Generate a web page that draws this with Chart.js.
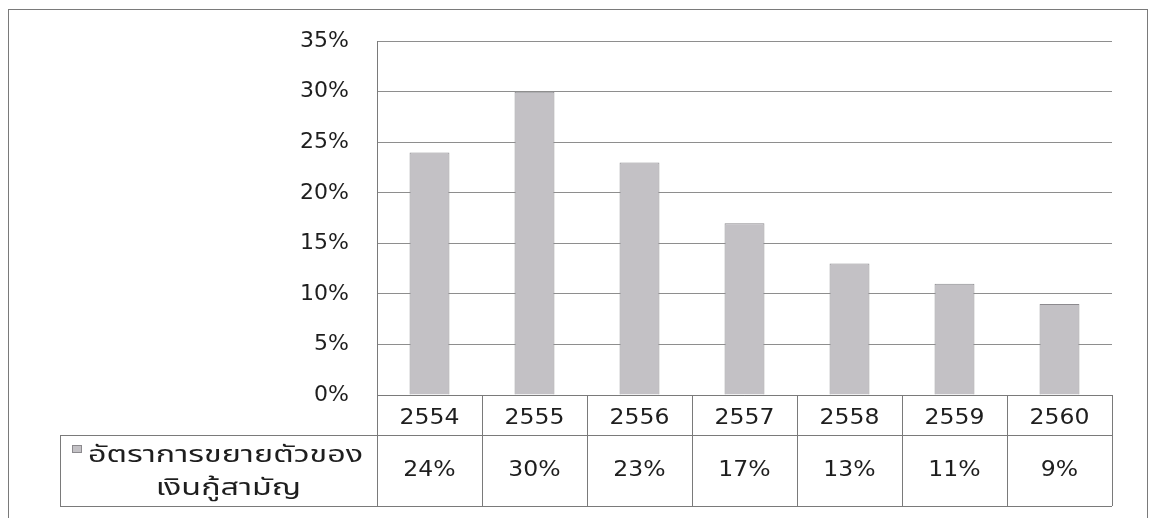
<!DOCTYPE html>
<html>
<head>
<meta charset="utf-8">
<script src="https://cdn.jsdelivr.net/npm/chart.js@4/dist/chart.umd.min.js"></script>
<style>
  html, body { margin: 0; padding: 0; background: #ffffff; }
  canvas { display: block; }
</style>
</head>
<body>
<canvas id="c" width="1149" height="518"></canvas>
<script>
// Loan growth rate by year (Buddhist Era), percent
const years = ['2554', '2555', '2556', '2557', '2558', '2559', '2560'];
const growthRate = [24, 30, 23, 17, 13, 11, 9];
const seriesLine1 = 'อัตราการขยายตัวของ';
const seriesLine2 = 'เงินกู้สามัญ';
const yTicks = [0, 5, 10, 15, 20, 25, 30, 35];

const FONT = "'DejaVu Sans', Verdana, sans-serif";
const THAI_FONT = "'Noto Sans Thai', 'Noto Sans Thai UI', 'Noto Sans', 'DejaVu Sans', sans-serif";
const BAR_FILL = '#c3c1c5';
const BAR_EDGE = '#8c8a8e';
const LINE = '#7a7a7a';
const TEXT = '#1e1e1e';

// text stretched horizontally by sx around its anchor
function wideText(ctx, text, x, y, sx, align) {
  ctx.save();
  ctx.translate(x, y);
  ctx.scale(sx, 1);
  ctx.textAlign = align;
  ctx.fillText(text, 0, 0);
  ctx.restore();
}

// Draws the outer frame and the data table under the plot
const dataTable = {
  id: 'dataTable',
  afterDraw(chart) {
    const ctx = chart.ctx;
    const x = chart.scales.x;
    const area = chart.chartArea;
    const n = years.length;
    const step = (area.right - area.left) / n;
    const rowTop = area.bottom;
    const rowMid = rowTop + 40;
    const rowBot = rowTop + 111;
    const legendLeft = 60;

    ctx.save();
    ctx.strokeStyle = LINE;
    ctx.lineWidth = 1;

    // outer frame
    ctx.strokeRect(8.5, 9.5, 1139, 600);

    ctx.beginPath();
    ctx.moveTo(area.left, rowTop + 0.5); ctx.lineTo(area.right, rowTop + 0.5);
    ctx.moveTo(legendLeft, rowMid + 0.5); ctx.lineTo(area.right, rowMid + 0.5);
    ctx.moveTo(legendLeft, rowBot + 0.5); ctx.lineTo(area.right, rowBot + 0.5);
    ctx.moveTo(legendLeft + 0.5, rowMid); ctx.lineTo(legendLeft + 0.5, rowBot);
    for (let i = 0; i <= n; i++) {
      const px = Math.round(area.left + i * step) + 0.5;
      ctx.moveTo(px, rowTop); ctx.lineTo(px, rowBot);
    }
    ctx.stroke();

    ctx.fillStyle = TEXT;
    ctx.textBaseline = 'middle';
    ctx.font = '21px ' + FONT;
    years.forEach((y, i) => {
      const cx = x.getPixelForValue(i);
      wideText(ctx, y, cx, rowTop + 24, 1.12, 'center');
      wideText(ctx, Math.round(growthRate[i]) + '%', cx, rowMid + 36, 1.12, 'center');
    });

    // series key inside the table
    ctx.font = '23px ' + THAI_FONT;
    const t1x = 88;
    const w1 = ctx.measureText(seriesLine1).width;
    const sx = 275 / w1;
    ctx.fillStyle = BAR_FILL;
    ctx.fillRect(72, 445, 10, 8);
    ctx.strokeStyle = BAR_EDGE;
    ctx.strokeRect(72.5, 445.5, 9, 7);
    ctx.fillStyle = TEXT;
    wideText(ctx, seriesLine1, t1x, rowMid + 22, sx, 'left');
    wideText(ctx, seriesLine2, t1x + 275 / 2 + 3, rowMid + 55, sx, 'center');
    ctx.restore();
  }
};

new Chart(document.getElementById('c'), {
  type: 'bar',
  data: {
    labels: years,
    datasets: [{
      label: seriesLine1 + seriesLine2,
      data: growthRate,
      backgroundColor: BAR_FILL,
      borderColor: BAR_EDGE,
      borderWidth: 1,
      barPercentage: 0.38,
      categoryPercentage: 1.0
    }]
  },
  options: {
    responsive: false,
    devicePixelRatio: 1,
    animation: false,
    layout: { padding: { left: 0, top: 36, right: 37, bottom: 123 } },
    plugins: {
      legend: { display: false },
      tooltip: { enabled: false }
    },
    scales: {
      x: { display: false },
      y: {
        min: 0,
        max: 35,
        afterFit(scale) { scale.width = 377; },
        afterBuildTicks(scale) { scale.ticks = yTicks.map(v => ({ value: v })); },
        ticks: {
          padding: 28,
          color: TEXT,
          font: { family: FONT, size: 22 },
          callback: v => v + '%'
        },
        grid: { color: '#8e8e8e', lineWidth: 1, drawTicks: false },
        border: { display: true, color: LINE, width: 1 }
      }
    }
  },
  plugins: [dataTable]
});
</script>
</body>
</html>
